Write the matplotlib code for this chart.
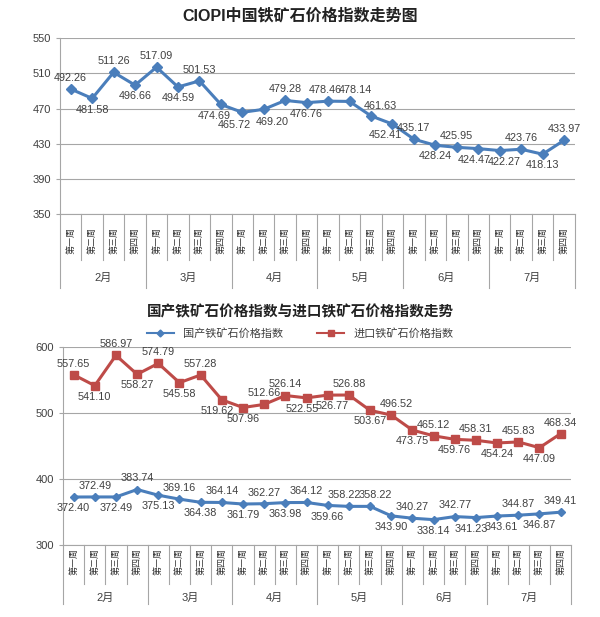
import matplotlib
matplotlib.use("Agg")
import matplotlib.pyplot as plt
from matplotlib.lines import Line2D

plt.rcParams["font.family"] = ["Liberation Sans", "Noto Sans CJK SC", "DejaVu Sans"]

# ---- data ----
MONTHS = ["2月", "3月", "4月", "5月", "6月", "7月"]
WEEKS = ["第一周", "第二周", "第三周", "第四周"]

ciopi = [492.26, 481.58, 511.26, 496.66,
         517.09, 494.59, 501.53, 474.69,
         465.72, 469.20, 479.28, 476.76,
         478.46, 478.14, 461.63, 452.41,
         435.17, 428.24, 425.95, 424.47,
         422.27, 423.76, 418.13, 433.97]

domestic = [372.40, 372.49, 372.49, 383.74,
            375.13, 369.16, 364.38, 364.14,
            361.79, 362.27, 363.98, 364.12,
            359.66, 358.22, 358.22, 343.90,
            340.27, 338.14, 342.77, 341.23,
            343.61, 344.87, 346.87, 349.41]

imported = [557.65, 541.10, 586.97, 558.27,
            574.79, 545.58, 557.28, 519.62,
            507.96, 512.66, 526.14, 522.55,
            526.77, 526.88, 503.67, 496.52,
            473.75, 465.12, 459.76, 458.31,
            454.24, 455.83, 447.09, 468.34]

# label offsets in points (style, not data)
ciopi_off = [(0, 8), (0, -8), (0, 8), (0, -8), (0, 8), (0, -8), (0, 8), (-5, -8),
             (-6, -9), (6, -9), (0, 8), (0, -8), (-2, 8), (4, 8), (7, 7), (-5, -8),
             (0, 8), (0, -8), (0, 8), (-3, -8), (3, -8), (0, 8), (0, -8), (0, 8)]
dom_off = [(0, -8), (0, 8), (0, -8), (0, 8), (0, -8), (0, 8), (0, -8), (0, 8),
           (0, -8), (0, 8), (0, -8), (0, 8), (0, -8), (-3, 8), (4, 8), (0, -8),
           (0, 8), (0, -8), (0, 8), (-3, -8), (3, -8), (0, 8), (0, -8), (0, 8)]
imp_off = [(0, 8), (0, -8), (0, 8), (0, -8), (0, 8), (0, -8), (0, 8), (-3, -8),
           (0, -8), (0, 8), (0, 8), (-3, -8), (3, -8), (0, 8), (0, -8), (4, 8),
           (0, -8), (0, 8), (0, -8), (0, 8), (0, -8), (0, 8), (0, -8), (0, 8)]

BLUE = "#4a7ebb"
RED = "#be4b48"
GRID = "#a6a6a6"
TXT = "#404040"

fig = plt.figure(figsize=(6.0, 6.17), dpi=100)
ax1 = fig.add_axes([0.100, 0.653, 0.858, 0.285])
ax2 = fig.add_axes([0.105, 0.117, 0.847, 0.321])

x = list(range(len(ciopi)))


def style_axis(ax, ymin, ymax, step, week_sep, month_sep, week_y, month_y):
    ax.set_xlim(-0.5, len(x) - 0.5)
    ax.set_ylim(ymin, ymax)
    ax.set_yticks(range(ymin, ymax + 1, step))
    ax.set_xticks([])
    ax.grid(axis="y", color=GRID, linewidth=0.8)
    ax.set_axisbelow(True)
    for s in ["top", "right", "bottom"]:
        ax.spines[s].set_visible(False)
    ax.spines["left"].set_color(GRID)
    ax.tick_params(axis="y", colors=GRID, labelcolor=TXT, labelsize=8, length=3)
    tr = ax.get_xaxis_transform()
    # category axis boxes below plot
    for b in range(len(x) + 1):
        bx = b - 0.5
        bottom = month_sep if b % 4 == 0 else week_sep
        ax.plot([bx, bx], [0, bottom], transform=tr, color=GRID, lw=0.8, clip_on=False)
    ax.plot([-0.5, len(x) - 0.5], [0, 0], transform=tr, color=GRID, lw=0.8, clip_on=False)
    for i in x:
        ax.text(i, week_y, WEEKS[i % 4], transform=tr, rotation=90, ha="center",
                va="center", fontsize=6.5, color="#333333")
    for m, name in enumerate(MONTHS):
        ax.text(m * 4 + 1.5, month_y, name, transform=tr, ha="center", va="center",
                fontsize=8, color=TXT)


def add_labels(ax, vals, offs):
    for i, (v, (dx, dy)) in enumerate(zip(vals, offs)):
        ax.annotate(f"{v:.2f}", (i, v), xytext=(dx, dy), textcoords="offset points",
                    ha="center", va="center", fontsize=7.8, color=TXT)


# ---- top chart ----
style_axis(ax1, 350, 550, 40, -0.26, -0.42, -0.15, -0.365)
ax1.plot(x, ciopi, color=BLUE, lw=2.2, marker="D", ms=5)
add_labels(ax1, ciopi, ciopi_off)
fig.text(0.5, 0.975, "CIOPI中国铁矿石价格指数走势图", ha="center", va="center",
         fontsize=11.5, fontweight="bold", color="#222222")

# ---- bottom chart ----
style_axis(ax2, 300, 600, 100, -0.20, -0.30, -0.085, -0.268)
ax2.plot(x, domestic, color=BLUE, lw=2.2, marker="D", ms=4.5)
ax2.plot(x, imported, color=RED, lw=2.2, marker="s", ms=6)
add_labels(ax2, domestic, dom_off)
add_labels(ax2, imported, imp_off)
fig.text(0.5, 0.494, "国产铁矿石价格指数与进口铁矿石价格指数走势", ha="center",
         va="center", fontsize=10.5, fontweight="bold", color="#222222")

handles = [Line2D([], [], color=BLUE, lw=1.5, marker="D", ms=3.5),
           Line2D([], [], color=RED, lw=1.5, marker="s", ms=4.5)]
fig.legend(handles, ["国产铁矿石价格指数", "进口铁矿石价格指数"], loc="center",
           bbox_to_anchor=(0.5, 0.459), ncol=2, frameon=False, fontsize=8,
           handlelength=2.5, columnspacing=3, labelcolor=TXT)

fig.savefig("out.png", dpi=100, facecolor="white")
